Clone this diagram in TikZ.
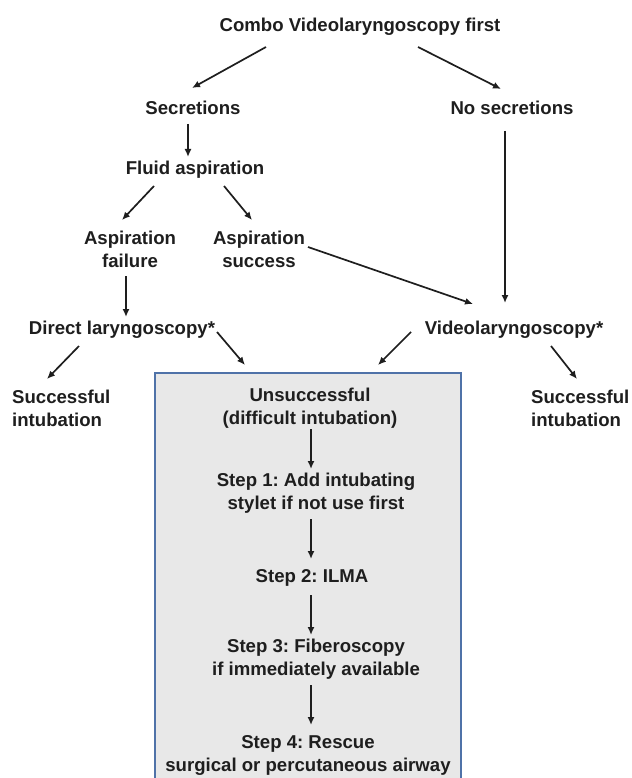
\documentclass[tikz,border=0pt]{standalone}
\usepackage{fontspec}
\setmainfont{Liberation Sans}
\usetikzlibrary{arrows.meta,calc}
\definecolor{txt}{HTML}{1E1E1E}
\definecolor{panelfill}{HTML}{E8E8E8}
\definecolor{panelline}{HTML}{4F72A8}
\frenchspacing
\begin{document}
\begin{tikzpicture}[x=1pt,y=-1pt,
  lbl/.style={font=\fontsize{18.6}{23}\selectfont\bfseries\frenchspacing, text=txt, inner sep=0pt, align=center, text depth=0pt},
  lbll/.style={lbl, align=left, anchor=west},
  arr/.style={draw=txt, line width=1.7pt, -{Latex[length=8pt,width=7pt]}}
]
\useasboundingbox (0,0) rectangle (631,778);
\fill[white] (0,0) rectangle (631,778);
% panel
\fill[panelfill] (155,373) rectangle (461,778);
\draw[panelline, line width=1.4pt] (155,778) -- (155,373) -- (461,373) -- (461,778);

\node[lbl] (combo) at (360,25) {Combo Videolaryngoscopy first};
\node[lbl] (secr) at (193,108) {Secretions};
\node[lbl] (nosecr) at (512,108) {No secretions};
\node[lbl] (fluid) at (195,168) {Fluid aspiration};
\node[lbl] (aspfail) at (130,249) {Aspiration\\failure};
\node[lbl] (aspsucc) at (259,249) {Aspiration\\success};
\node[lbl] (direct) at (122,328) {Direct laryngoscopy*};
\node[lbl] (video) at (514,328) {Videolaryngoscopy*};
\node[lbll] (succL) at (12,408) {Successful\\intubation};
\node[lbll] (succR) at (531,408) {Successful\\intubation};
\node[lbl] (unsucc) at (310,406) {Unsuccessful\\(difficult intubation)};
\node[lbl] (step1) at (316,491) {Step 1: Add intubating\\stylet if not use first};
\node[lbl] (step2) at (312,576) {Step 2: ILMA};
\node[lbl] (step3) at (316,657) {Step 3: Fiberoscopy\\if immediately available};
\node[lbl] (step4) at (308,753) {Step 4: Rescue\\surgical or percutaneous airway};

\draw[arr] ($(combo)+(-94,22)$) -- ($(secr)+(-1,-20)$);
\draw[arr] ($(combo)+(58,22)$) -- ($(nosecr)+(-11,-19)$);
\draw[arr] ($(secr)+(-5,16)$) -- ($(fluid)+(-7,-11)$);
\draw[arr] ($(fluid)+(-41,18)$) -- ($(aspfail)+(-8,-29)$);
\draw[arr] ($(fluid)+(29,18)$) -- ($(aspsucc)+(-7,-29)$);
\draw[arr] ($(aspsucc)+(49,-2)$) -- ($(video)+(-41,-24)$);
\draw[arr] ($(nosecr)+(-7,23)$) -- ($(video)+(-9,-25)$);
\draw[arr] ($(aspfail)+(-4,27)$) -- ($(direct)+(4,-11)$);
\draw[arr] ($(direct)+(-43,18)$) -- ($(succL.west)+(35,-29)$);
\draw[arr] ($(direct)+(95,4)$) -- ($(unsucc)+(-65,-41)$);
\draw[arr] ($(video)+(-103,4)$) -- ($(unsucc)+(68,-41)$);
\draw[arr] ($(video)+(37,18)$) -- ($(succR.west)+(46,-29)$);
\draw[arr] ($(unsucc)+(1,23)$) -- ($(step1)+(-5,-22)$);
\draw[arr] ($(step1)+(-5,28)$) -- ($(step2)+(-1,-17)$);
\draw[arr] ($(step2)+(-1,19)$) -- ($(step3)+(-5,-22)$);
\draw[arr] ($(step3)+(-5,28)$) -- ($(step4)+(3,-28)$);
\end{tikzpicture}
\end{document}
